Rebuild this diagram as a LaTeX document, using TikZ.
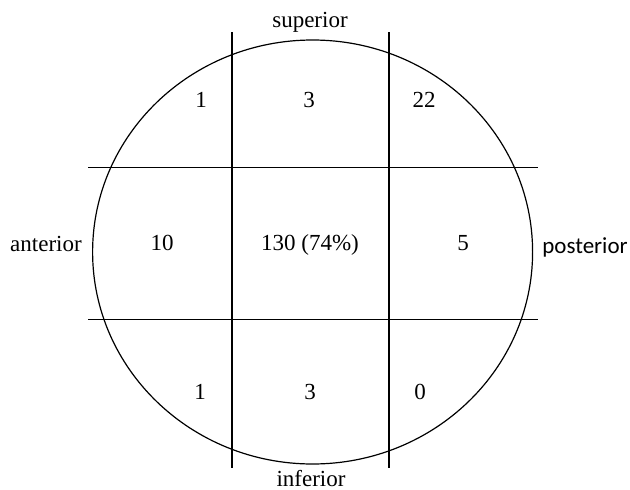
\documentclass[tikz,border=0pt]{standalone}
\usepackage{fontspec}
\setmainfont{Liberation Serif}
\newfontfamily\calibri{Carlito}
\usepackage{tikz}

\begin{document}
\begin{tikzpicture}[x=1pt,y=-1pt,line width=1.2pt,
    zahl/.style={anchor=base,inner sep=0pt,font=\fontsize{23}{27}\selectfont}]
  \useasboundingbox (0,0) rectangle (630,490);
  % Ellipse
  \draw (312.6,252) ellipse [x radius=220pt, y radius=212pt];
  % Raster
  \draw (232,32) -- (232,468);
  \draw (389,32) -- (389,468);
  \draw (88,167.5) -- (538,167.5);
  \draw (88,319.5) -- (538,319.5);
  % Richtungen
  \node[zahl] (sup) at (310,27) {superior};
  \node[zahl] (inf) at (311,486) {inferior};
  \node[zahl] (ant) at (46,251) {anterior};
  \node[zahl,font=\fontsize{23}{27}\calibri] (post) at (585,253.5) {posterior};
  % Werte oben
  \node[zahl] (o1) at (201,107.3) {1};
  \node[zahl] (o2) at (309,107.3) {3};
  \node[zahl] (o3) at (424,107.3) {22};
  % Werte Mitte
  \node[zahl] (m1) at (162,250) {10};
  \node[zahl] (m2) at (310,250) {130 (74\%)};
  \node[zahl] (m3) at (463,250) {5};
  % Werte unten
  \node[zahl] (u1) at (200,399) {1};
  \node[zahl] (u2) at (310,399) {3};
  \node[zahl] (u3) at (420,399) {0};
\end{tikzpicture}
\end{document}
